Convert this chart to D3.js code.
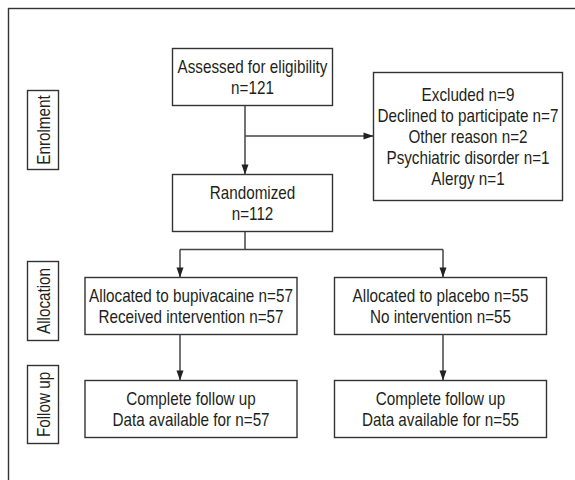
<!DOCTYPE html>
<html>
<head>
  <meta charset="utf-8">
  <title>Flow diagram</title>
  <script src="https://d3js.org/d3.v7.min.js"></script>
  <style>
    body { margin: 0; background: #fff; }
    text { font-family: "Liberation Sans", Arial, sans-serif; fill: #231f20; }
  </style>
</head>
<body>
<script>

// stage labels on the left
var stages = ["Enrolment", "Allocation", "Follow up"];

// box texts
var assessed   = ["Assessed for eligibility", "n=121"];
var excluded   = ["Excluded n=9", "Declined to participate n=7", "Other reason n=2", "Psychiatric disorder n=1", "Alergy n=1"];
var randomized = ["Randomized", "n=112"];
var armAlloc   = [["Allocated to bupivacaine n=57", "Received intervention n=57"],
                  ["Allocated to placebo n=55", "No intervention n=55"]];
var armFollow  = [["Complete follow up", "Data available for n=57"],
                  ["Complete follow up", "Data available for n=55"]];

var width = 575, height = 480;

var svg = d3.select("body").append("svg")
    .attr("width", width)
    .attr("height", height);

var stroke = "#333";
var lineH = 21;
var fs = 18;

// the original uses a condensed face: measure one line and squeeze all text to match
var probe = svg.append("text").attr("font-size", fs).text("Declined to participate n=7");
var sx = 181 / probe.node().getComputedTextLength();
probe.remove();

// outer frame, open past the right and bottom edges
svg.append("rect")
    .attr("x", 8.5).attr("y", 8.5)
    .attr("width", 620).attr("height", 520)
    .attr("fill", "none").attr("stroke", stroke).attr("stroke-width", 1.4);

// layout of boxes
var boxes = [
  {x: 172.5, y: 48.5,  w: 160, h: 57,  lines: assessed},
  {x: 373.5, y: 72.5,  w: 189, h: 128, lines: excluded},
  {x: 172.5, y: 174.5, w: 160, h: 57,  lines: randomized},
  {x: 85,    y: 277.5, w: 212, h: 57,  lines: armAlloc[0]},
  {x: 334.5, y: 277.5, w: 212, h: 57,  lines: armAlloc[1]},
  {x: 85,    y: 380.5, w: 212, h: 57,  lines: armFollow[0]},
  {x: 334.5, y: 380.5, w: 212, h: 57,  lines: armFollow[1]}
];

var stageBoxes = [
  {x: 27.5, y: 90.5,  w: 31, h: 79},
  {x: 27.5, y: 261.5, w: 31, h: 79},
  {x: 27.5, y: 365.5, w: 31, h: 78}
];

var g = svg.selectAll(".box").data(boxes).enter().append("g").attr("class", "box");

g.append("rect")
    .attr("x", d => d.x).attr("y", d => d.y)
    .attr("width", d => d.w).attr("height", d => d.h)
    .attr("fill", "#fff").attr("stroke", stroke).attr("stroke-width", 1.4);

g.each(function(d) {
  var n = d.lines.length;
  var cy = d.y + d.h / 2;
  d3.select(this).selectAll("text").data(d.lines).enter().append("text")
      .attr("transform", (t, i) => "translate(" + (d.x + d.w / 2) + "," + (cy + (i - (n - 1) / 2) * lineH + 6.5) + ") scale(" + sx + ",1)")
      .attr("text-anchor", "middle")
      .attr("font-size", fs)
      .text(t => t);
});

var sg = svg.selectAll(".stage").data(stageBoxes).enter().append("g").attr("class", "stage");
sg.append("rect")
    .attr("x", d => d.x).attr("y", d => d.y)
    .attr("width", d => d.w).attr("height", d => d.h)
    .attr("fill", "#fff").attr("stroke", stroke).attr("stroke-width", 1.4);
sg.append("text")
    .attr("transform", d => "translate(" + (d.x + d.w / 2 + 7) + "," + (d.y + d.h / 2) + ") rotate(-90) scale(" + sx + ",1)")
    .attr("text-anchor", "middle")
    .attr("font-size", fs)
    .text((d, i) => stages[i]);

// connectors
var mainX = 245, leftX = 180, rightX = 443;
var segs = [
  [[mainX, 105.5], [mainX, 174.5]],
  [[mainX, 136], [373.5, 136]],
  [[mainX, 231.5], [mainX, 249.5]],
  [[leftX, 249.5], [rightX, 249.5]],
  [[leftX, 249.5], [leftX, 277.5]],
  [[rightX, 249.5], [rightX, 277.5]],
  [[leftX, 334.5], [leftX, 380.5]],
  [[rightX, 334.5], [rightX, 380.5]]
];
svg.selectAll(".seg").data(segs).enter().append("path")
    .attr("d", d => d3.line()(d))
    .attr("fill", "none").attr("stroke", "#444").attr("stroke-width", 1.5);

// arrow heads: [tipX, tipY, direction]
var heads = [
  [mainX, 174.5, "down"], [373.5, 136, "right"],
  [leftX, 277.5, "down"], [rightX, 277.5, "down"],
  [leftX, 380.5, "down"], [rightX, 380.5, "down"]
];
svg.selectAll(".head").data(heads).enter().append("path")
    .attr("d", function(d) {
      var x = d[0], y = d[1];
      if (d[2] === "down") return "M" + (x - 3.5) + "," + (y - 10) + "L" + (x + 3.5) + "," + (y - 10) + "L" + x + "," + y + "Z";
      return "M" + (x - 10) + "," + (y - 3.5) + "L" + (x - 10) + "," + (y + 3.5) + "L" + x + "," + y + "Z";
    })
    .attr("fill", "#222");

</script>
</body>
</html>
